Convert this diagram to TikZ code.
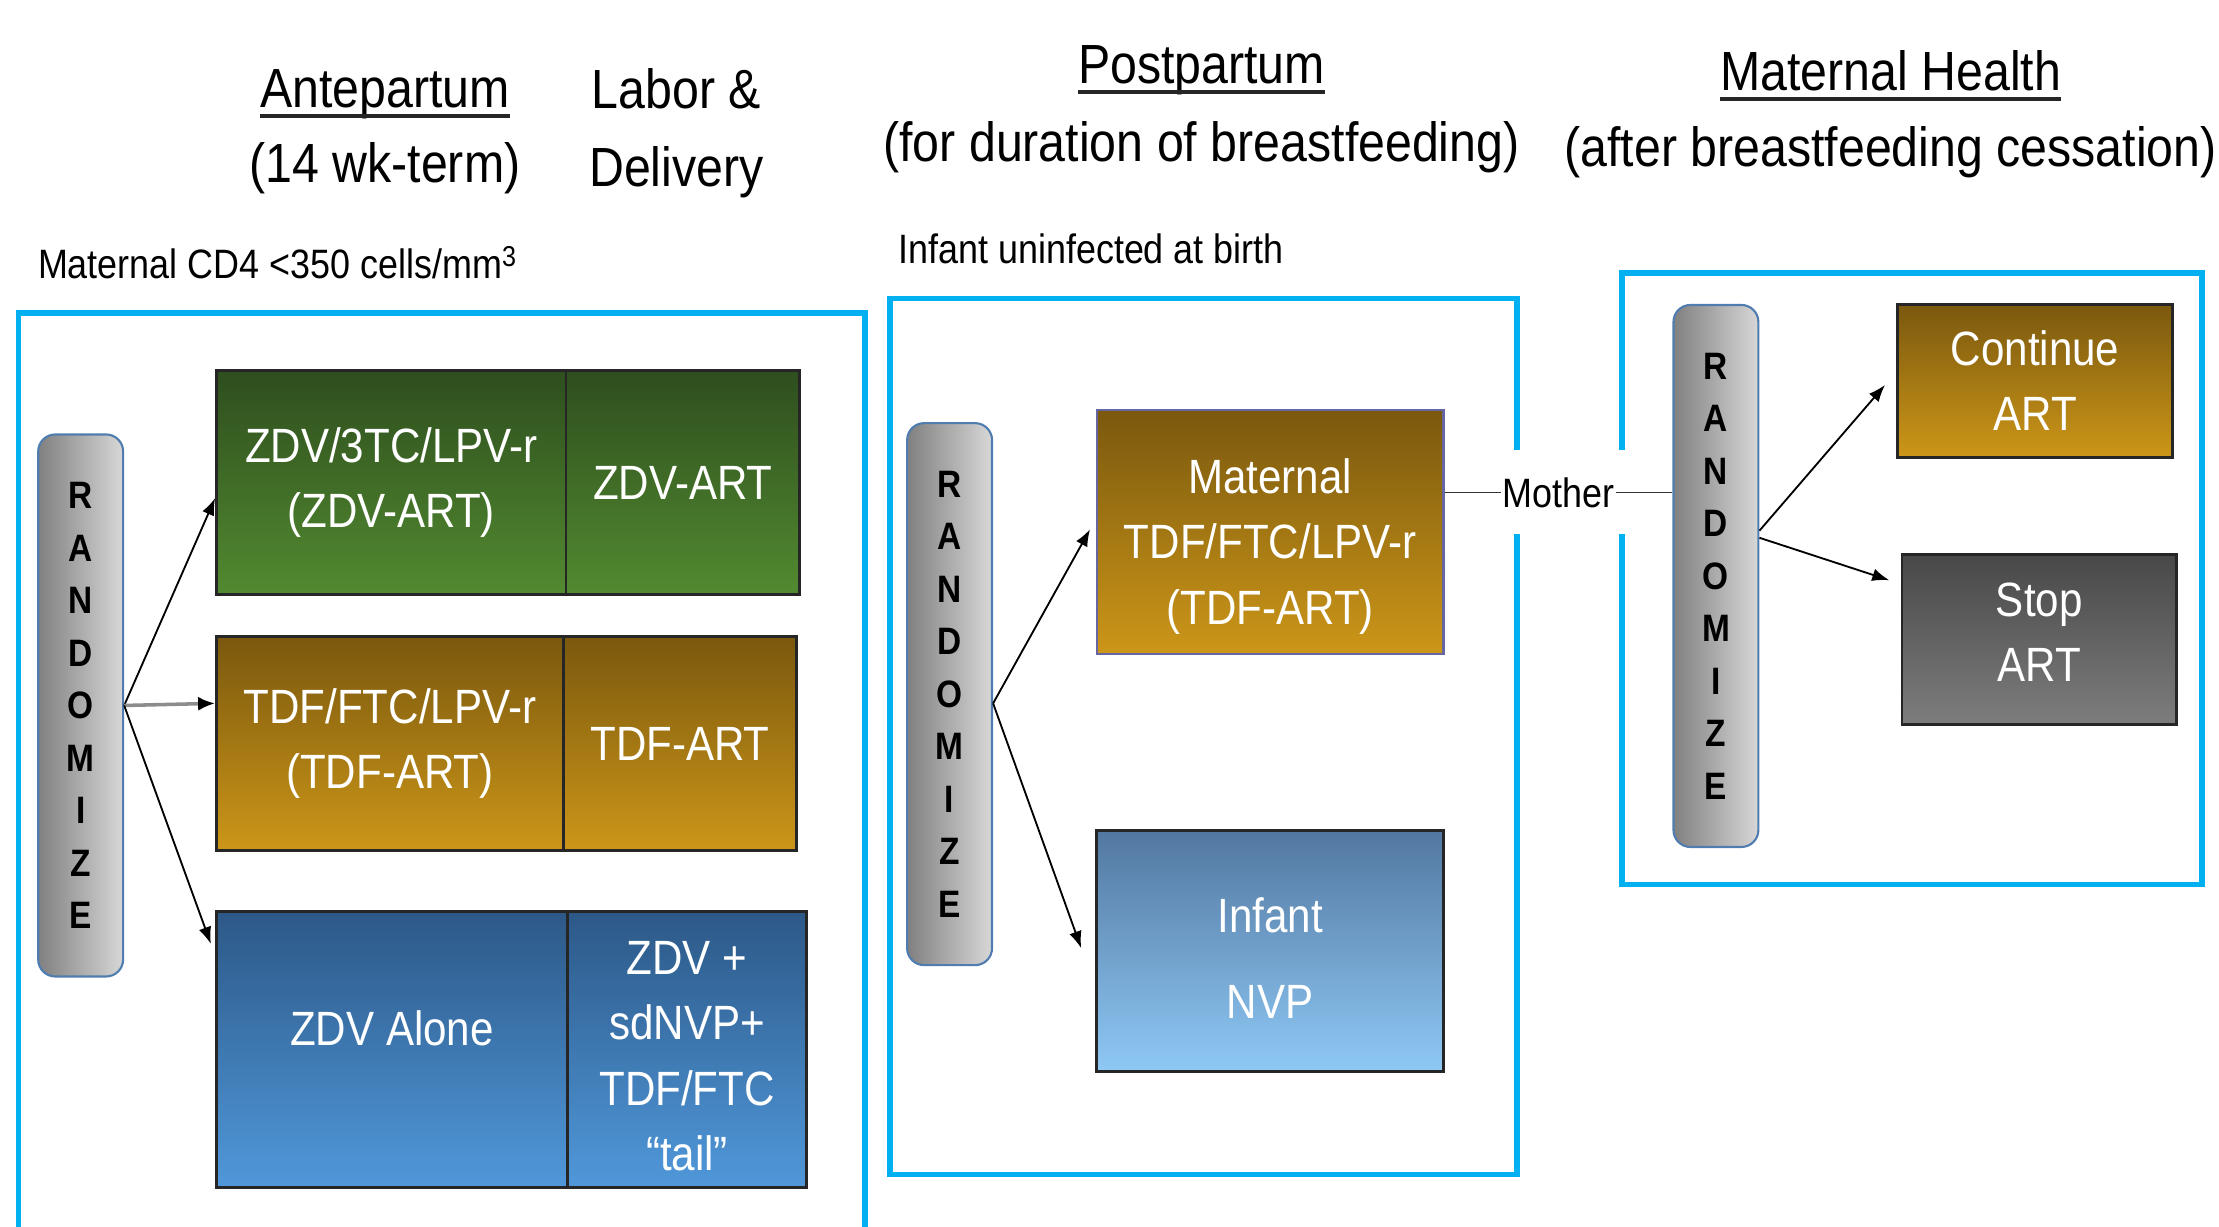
\documentclass[tikz,border=0pt]{standalone}
\usepackage{fontspec}
\setmainfont{Liberation Sans}[FakeStretch=0.875]
\usetikzlibrary{arrows.meta}
\definecolor{framec}{RGB}{0,176,240}
\definecolor{gtop}{RGB}{46,78,30}
\definecolor{gbot}{RGB}{82,138,48}
\definecolor{otop}{RGB}{122,88,14}
\definecolor{obot}{RGB}{204,150,24}
\definecolor{btop}{RGB}{44,88,135}
\definecolor{bbot}{RGB}{80,152,218}
\definecolor{itop}{RGB}{82,120,160}
\definecolor{ibot}{RGB}{142,200,245}
\definecolor{stop1}{RGB}{72,72,72}
\definecolor{stop2}{RGB}{125,125,125}
\definecolor{barl}{RGB}{128,128,128}
\definecolor{barr}{RGB}{215,215,215}
\definecolor{barb}{RGB}{80,125,175}
\tikzset{
  frame/.style={draw=framec, line width=4pt},
  hdr/.style={font=\fontsize{39}{47}\selectfont, inner sep=0pt, anchor=base},
  uline/.style={line width=2.5pt, black!85},
  small/.style={font=\fontsize{29}{35}\selectfont, inner sep=0pt, anchor=base},
  randbar/.style={draw=barb, line width=1.5pt, rounded corners=12pt, left color=barl, right color=barr,
    minimum width=60, minimum height=383, inner sep=0pt, align=center,
    font=\bfseries\fontsize{27}{37.1}\selectfont},
  cbox/.style={draw=black!85, line width=2pt, inner sep=0pt, text=white, align=center,
    font=\fontsize{34}{46}\selectfont},
  greenf/.style={top color=gtop, bottom color=gbot},
  goldf/.style={top color=otop, bottom color=obot},
  bluef/.style={top color=btop, bottom color=bbot},
  infantf/.style={top color=itop, bottom color=ibot},
  grayf/.style={top color=stop1, bottom color=stop2},
  arr/.style={draw=black, line width=1.3pt, -{Latex[length=12pt,width=9pt]}},
}
\begin{document}
\begin{tikzpicture}[x=1pt,y=-1pt]
\useasboundingbox (0,0) rectangle (1568,867);

% headers
\node[hdr] (h1) at (272,76) {Antepartum};
\node[hdr] (h2) at (272,129) {(14 wk-term)};
\node[hdr] (h3) at (478,77) {Labor \&};
\node[hdr] (h4) at (478,132) {Delivery};
\node[hdr] (h5) at (849,59) {Postpartum};
\node[hdr] (h6) at (849,114) {(for duration of breastfeeding)};
\node[hdr] (h7) at (1336,64) {Maternal Health};
\node[hdr] (h8) at (1336,118) {(after breastfeeding cessation)};
\draw[uline] ([yshift=-6pt]h1.base west) -- ([yshift=-6pt]h1.base east);
\draw[uline] ([yshift=-6pt]h5.base west) -- ([yshift=-6pt]h5.base east);
\draw[uline] ([yshift=-6pt]h7.base west) -- ([yshift=-6pt]h7.base east);

\node[small] (l1) at (196,197) {Maternal CD4 <350 cells/mm\textsuperscript{3}};
\node[small] (l2) at (771,186) {Infant uninfected at birth};

% frames
\draw[frame] (13,870) -- (13,221) -- (611,221) -- (611,870);
\draw[frame] (1072,318) -- (1072,211) -- (629,211) -- (629,830) -- (1072,830) -- (1072,377);
\draw[frame] (1146,318) -- (1146,193) -- (1556,193) -- (1556,625) -- (1146,625) -- (1146,377);

% randomize bars
\node[randbar] (r1) at (57,498.5) {R\\A\\N\\D\\O\\M\\I\\Z\\E};
\node[randbar] (r2) at (671,490.5) {R\\A\\N\\D\\O\\M\\I\\Z\\E};
\node[randbar] (r3) at (1212.5,407) {R\\A\\N\\D\\O\\M\\I\\Z\\E};

% antepartum boxes
\node[cbox, greenf, minimum width=247, minimum height=158] (a1) at (276.5,341) {ZDV/3TC/LPV-r\\(ZDV-ART)};
\node[cbox, greenf, minimum width=165, minimum height=158] (b1) at (482.5,341) {ZDV-ART};
\node[cbox, goldf, minimum width=245, minimum height=151] (a2) at (275.5,525.5) {TDF/FTC/LPV-r\\(TDF-ART)};
\node[cbox, goldf, minimum width=165, minimum height=151] (b2) at (480.5,525.5) {TDF-ART};
\node[cbox, bluef, minimum width=248, minimum height=195] (a3) at (277,741.5) {ZDV Alone\rule[-30pt]{0pt}{0pt}};
\node[cbox, bluef, minimum width=169, minimum height=195] (b3) at (485.5,741.5) {\rule{0pt}{33pt}ZDV +\\sdNVP+\\TDF/FTC\\“tail”};

% postpartum boxes
\node[cbox, goldf, draw=black!60!blue!60, line width=1.5pt, minimum width=245, minimum height=172] (mat) at (897.5,376) {\rule{0pt}{45pt}Maternal\\TDF/FTC/LPV-r\\(TDF-ART)};
\node[cbox, infantf, minimum width=245, minimum height=170, font=\fontsize{34}{61}\selectfont] (inf) at (897.5,672) {\rule{0pt}{35pt}Infant\\NVP};

% maternal health boxes
\node[cbox, goldf, minimum width=194, minimum height=108] (cont) at (1438,269) {Continue\\ART};
\node[cbox, grayf, minimum width=194, minimum height=120] (stp) at (1441,452) {Stop\\ART\rule[-10pt]{0pt}{0pt}};

% arrows
\draw[arr] (r1.east) -- ([yshift=-11pt]a1.west);
\draw[arr, draw=black!45, line width=2.5pt, -{Latex[black,length=12pt,width=10pt]}] (r1.east) -- ([yshift=28.5pt]a2.west);
\draw[arr] (r1.east) -- ([yshift=74.5pt,xshift=-3pt]a3.west);

\draw[arr] ([yshift=-6.5pt]r2.east) -- ([yshift=2pt,xshift=-4pt]mat.west);
\draw[arr] ([yshift=-6.5pt]r2.east) -- ([yshift=2pt,xshift=-10pt]inf.west);

\draw[arr] ([yshift=32pt]r3.east) -- ([yshift=-3pt,xshift=-8pt]cont.west);
\draw[arr] ([yshift=27pt]r3.east) -- ([yshift=42pt,xshift=-8pt]stp.west);

\draw[line width=1.3pt, black!80] ([yshift=28pt]mat.east) -- node[fill=white, text=black, inner sep=1pt, font=\fontsize{29}{35}\selectfont] (mo) {Mother} ([yshift=59pt]r3.west);
\end{tikzpicture}
\end{document}
